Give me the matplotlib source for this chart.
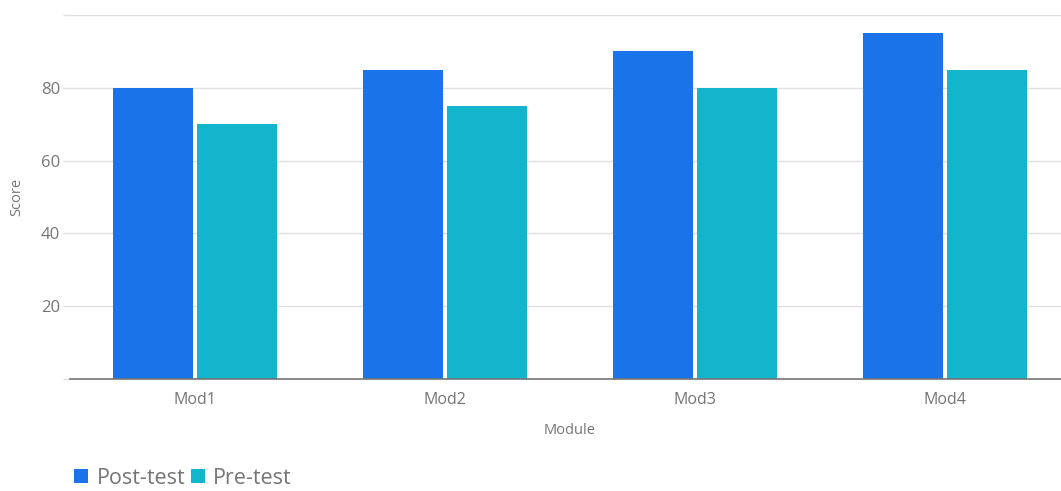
import matplotlib
matplotlib.use("Agg")
import matplotlib.pyplot as plt
import numpy as np
from matplotlib.patches import Patch

categories = ["Mod1", "Mod2", "Mod3", "Mod4"]
post_test = [80, 85, 90, 95]
pre_test = [70, 75, 80, 85]
series_names = ["Post-test", "Pre-test"]
colors = ["#1A73E8", "#12B5CB"]
yticks = [0, 20, 40, 60, 80, 100]
ytick_labels = ["", "20", "40", "60", "80", ""]

plt.rcParams['font.family'] = ['Open Sans', 'DejaVu Sans']
text_color = "#757575"
grid_color = "#e0e0e0"

W, H = 1061, 491
fig = plt.figure(figsize=(W / 100, H / 100), dpi=100)
ax = fig.add_axes([70 / W, 1 - 379 / H, 1000 / W, 364 / H])

x = np.arange(len(categories))
bw = 0.32
off = 0.168
ax.bar(x - off, post_test, width=bw, color=colors[0], zorder=3)
ax.bar(x + off, pre_test, width=bw, color=colors[1], zorder=3)

ax.set_xlim(-0.5, len(categories) - 0.5)
ax.set_ylim(0, 100)
ax.set_yticks(yticks)
ax.set_yticklabels(ytick_labels)
ax.set_xticks(x)
ax.set_xticklabels(categories)

ax.yaxis.grid(True, color=grid_color, linewidth=1, zorder=0)
ax.set_axisbelow(True)
for s in ["top", "right", "left"]:
    ax.spines[s].set_visible(False)
ax.spines["bottom"].set_color("#757575")
ax.spines["bottom"].set_linewidth(1.2)
ax.spines["bottom"].set_zorder(4)

ax.tick_params(axis="y", length=5, width=1, color=grid_color, pad=2,
               labelsize=12, labelcolor=text_color)
ax.tick_params(axis="x", length=0, pad=9, labelsize=11.5, labelcolor=text_color)

ax.set_xlabel("Module", fontsize=10.5, color=text_color, labelpad=11)
ax.set_ylabel("Score", fontsize=10.5, color=text_color, labelpad=12)

handles = [Patch(facecolor=c, edgecolor="none") for c in colors]
fig.legend(handles, series_names, loc="center left",
           bbox_to_anchor=(74 / W, 1 - 478 / H), frameon=False,
           fontsize=15.5, labelcolor=text_color, handlelength=0.65,
           handleheight=0.65, handletextpad=0.4, columnspacing=0.25,
           ncol=2, borderaxespad=0, borderpad=0)

fig.savefig("out.png", dpi=100)
